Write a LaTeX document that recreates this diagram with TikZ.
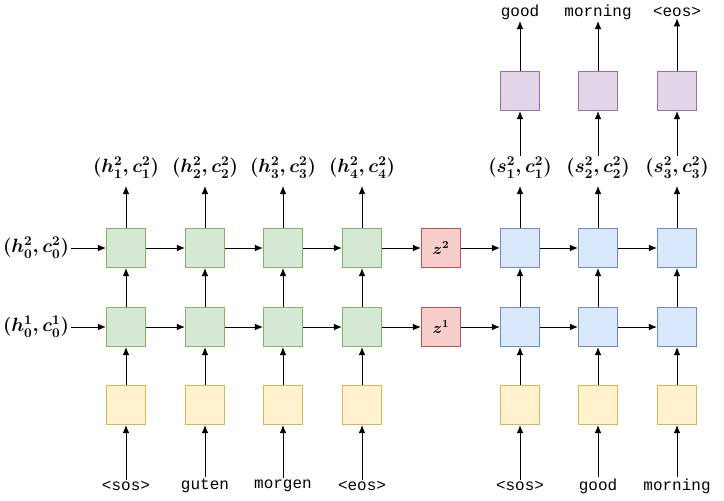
\documentclass[tikz,border=0pt]{standalone}
\usepackage{fontspec}
\setmonofont{Liberation Mono}
\usetikzlibrary{arrows.meta}
\definecolor{gF}{HTML}{D5E8D4}\definecolor{gD}{HTML}{82B366}
\definecolor{rF}{HTML}{F8CECC}\definecolor{rD}{HTML}{B85450}
\definecolor{bF}{HTML}{DAE8FC}\definecolor{bD}{HTML}{6C8EBF}
\definecolor{yF}{HTML}{FFF2CC}\definecolor{yD}{HTML}{D6B656}
\definecolor{pF}{HTML}{E1D5E7}\definecolor{pD}{HTML}{9673A6}
\begin{document}
\begin{tikzpicture}[x=0.75pt,y=-0.75pt,
  box/.style={draw, minimum size=29.5pt, inner sep=0pt, line width=0.6pt},
  enc/.style={box, fill=gF, draw=gD},
  zz/.style={box, fill=rF, draw=rD, font=\large\boldmath},
  dec/.style={box, fill=bF, draw=bD},
  emb/.style={box, fill=yF, draw=yD},
  outb/.style={box, fill=pF, draw=pD},
  lab/.style={inner sep=1pt, font=\Large\boldmath},
  tok/.style={inner sep=1pt, font=\ttfamily\large},
  ar/.style={-{Latex[length=6pt,width=5pt]}, line width=0.7pt}]
\useasboundingbox (0,0) rectangle (724,500);
% encoder
\foreach \i/\x/\t in {1/126/{<sos>},2/205/guten,3/283/morgen,4/362/{<eos>}}{
  \node[enc] (et\i) at (\x,248) {};
  \node[enc] (eb\i) at (\x,327) {};
  \node[emb] (ee\i) at (\x,405) {};
  \node[tok] (ew\i) at (\x,486) {\t};
  \node[lab] (eh\i) at (\x,168) {$(h^2_{\i},c^2_{\i})$};
  \coordinate (eo\i) at (\x,186);
  \draw[ar] (ew\i) -- (ee\i);
  \draw[ar] (ee\i) -- (eb\i);
  \draw[ar] (eb\i) -- (et\i);
  \draw[ar] (et\i) -- (eo\i);
}
\node[lab] (h2) at (36,248) {$(h^2_0,c^2_0)$};
\node[lab] (h1) at (36,327) {$(h^1_0,c^1_0)$};
\draw[ar] (h2) -- (et1); \draw[ar] (h1) -- (eb1);
\foreach \a/\b in {1/2,2/3,3/4}{\draw[ar] (et\a) -- (et\b); \draw[ar] (eb\a) -- (eb\b);}
\node[zz] (z2) at (441,248) {$z^2$};
\node[zz] (z1) at (441,327) {$z^1$};
\draw[ar] (et4) -- (z2); \draw[ar] (eb4) -- (z1);
% decoder
\foreach \i/\x/\t/\o in {1/520/{<sos>}/good,2/598/good/morning,3/677/morning/{<eos>}}{
  \node[dec] (dt\i) at (\x,248) {};
  \node[dec] (db\i) at (\x,327) {};
  \node[emb] (de\i) at (\x,405) {};
  \node[outb] (dp\i) at (\x,91) {};
  \node[tok] (dw\i) at (\x,486) {\t};
  \node[tok] (dow\i) at (\x,12) {\o};
  \node[lab] (ds\i) at (\x,168) {$(s^2_{\i},c^2_{\i})$};
  \coordinate (do\i) at (\x,186);
  \draw[ar] (dw\i) -- (de\i);
  \draw[ar] (de\i) -- (db\i);
  \draw[ar] (db\i) -- (dt\i);
  \draw[ar] (dt\i) -- (do\i);
  \draw[ar] (ds\i) -- (dp\i);
  \draw[ar] (dp\i) -- (dow\i);
}
\draw[ar] (z2) -- (dt1); \draw[ar] (z1) -- (db1);
\foreach \a/\b in {1/2,2/3}{\draw[ar] (dt\a) -- (dt\b); \draw[ar] (db\a) -- (db\b);}
\end{tikzpicture}
\end{document}
